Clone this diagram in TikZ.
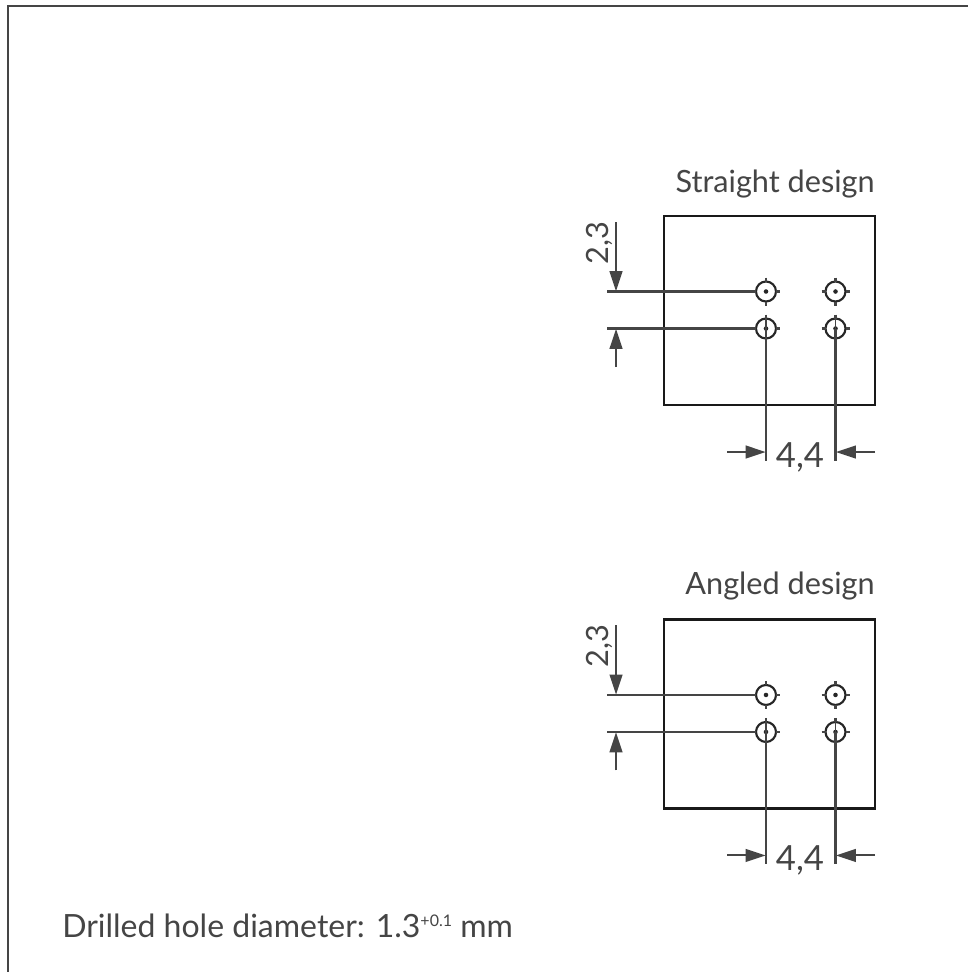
\documentclass[tikz,border=0pt]{standalone}
\usepackage{fontspec}
\setmainfont{Lato}
\usetikzlibrary{arrows.meta}
\definecolor{ink}{gray}{0.27}
\definecolor{txt}{gray}{0.27}
\tikzset{
  x=0.75pt,y=-0.75pt,
  frameline/.style={draw=ink,line width=1.7pt},
  boxline/.style={draw=black!90,line width=2.1pt},
  dimline/.style={draw=ink,line width=1.8pt},
  tickline/.style={draw=ink,line width=1.6pt},
  dimarrow/.style={dimline,line width=1.5pt,-{Triangle[length=15pt,width=9.5pt]},shorten >=-0.5pt},
  holering/.style={circle,draw=black!85,line width=1.6pt,minimum size=15pt,inner sep=0pt},
  label/.style={inner sep=0pt,text=txt,font=\fontsize{23}{26}\selectfont},
  notelabel/.style={inner sep=0pt,text=txt,font=\fontsize{24}{26}\selectfont},
  dimlabel/.style={inner sep=0pt,text=txt,font=\fontsize{26}{30}\selectfont},
  dimlabelv/.style={inner sep=0pt,text=txt,font=\fontsize{23}{30}\selectfont},
  pics/drill/.style={code={
    \coordinate (-tl) at (664,216);
    \coordinate (-br) at (875,405);
    \draw[boxline] (-tl) rectangle (-br);
    \foreach \n/\px/\py in {a/766/291.5,b/835.5/291.5,c/766/328.5,d/835.5/328.5}{
      \node[holering] (-\n) at (\px,\py) {};
      \draw[tickline] (\px-14,\py) -- (\px-10,\py) (\px+10,\py) -- (\px+14,\py)
                      (\px,\py-14) -- (\px,\py-10) (\px,\py+10) -- (\px,\py+14);
      \fill[black!85] (\px,\py) circle (1.7pt);
    }
    \coordinate (-la) at (607,291.5);
    \coordinate (-lc) at (607,328.5);
    \coordinate (-bc) at (766,460.5);
    \coordinate (-bd) at (835.5,460.5);
    \draw[dimline] (-la) -- (-a.west);
    \draw[dimline] (-lc) -- (-c.west);
    \draw[dimline] (-c.center) -- (-bc);
    \draw[dimline] (-d.center) -- (-bd);
    \draw[tickline,line width=1pt] (-c.north) -- (-c.center);
    \draw[tickline,line width=1pt] (-d.north) -- (-d.center);
    \coordinate (-v1) at (616,222);
    \coordinate (-v1e) at (616,290.5);
    \coordinate (-v2) at (616,367);
    \coordinate (-v2e) at (616,329.5);
    \coordinate (-h1) at (727,452);
    \coordinate (-h1e) at (765,452);
    \coordinate (-h2) at (875,452);
    \coordinate (-h2e) at (836.5,452);
    \draw[dimarrow] (-v1) -- (-v1e);
    \draw[dimarrow] (-v2) -- (-v2e);
    \draw[dimarrow] (-h1) -- (-h1e);
    \draw[dimarrow] (-h2) -- (-h2e);
    \node[dimlabelv,rotate=90,anchor=base] (-t23) at (608,243) {2,3};
    \node[dimlabel,anchor=base] (-t44) at (800,467) {4,4};
    \node[label,anchor=base east] (-title) at (875,#1) {\tikzpictext};
  }}
}
\begin{document}
\begin{tikzpicture}
\useasboundingbox (0,0) rectangle (968,972);
\fill[white] (0,0) rectangle (968,972);
\coordinate (f1) at (8,972);
\coordinate (f2) at (8,6);
\coordinate (f3) at (968,6);
\draw[frameline] (f1) -- (f2) -- (f3);
\pic (s) [pic text={Straight design}] {drill=192};
\pic (g) [yshift=-302.6pt,pic text={Angled design}] {drill=191};
\node[notelabel,anchor=base west] (note) at (62,937) {Drilled hole diameter: 1.3\raisebox{8pt}{\fontsize{12}{13}\selectfont +0.1} mm};
\end{tikzpicture}
\end{document}
